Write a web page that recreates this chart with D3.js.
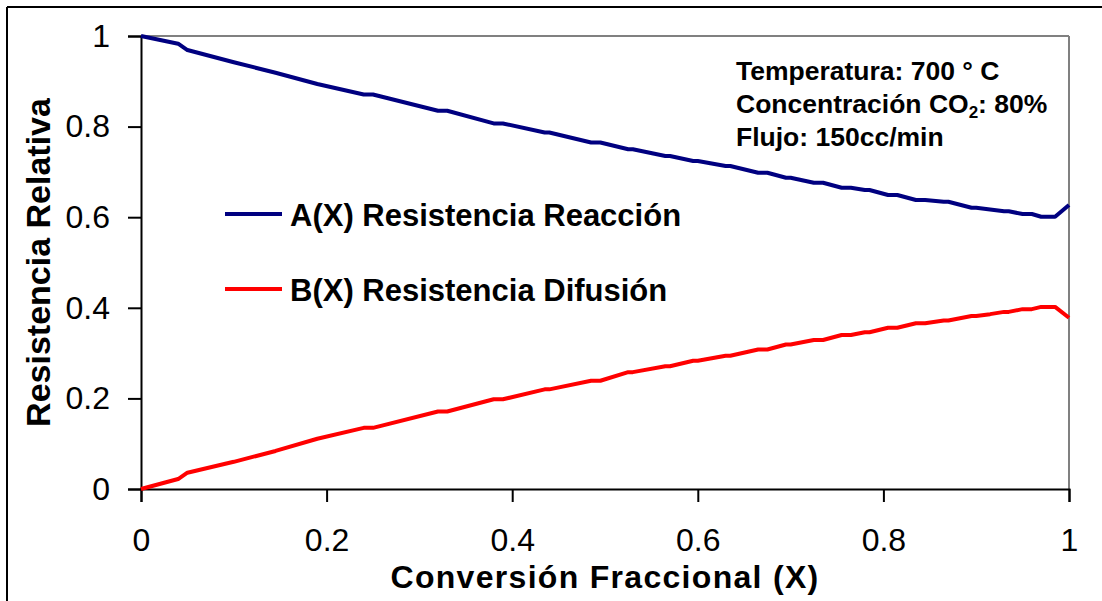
<!DOCTYPE html>
<html><head><meta charset="utf-8">
<script src="https://cdn.jsdelivr.net/npm/d3@7"></script>
<style>
html,body{margin:0;padding:0;background:#fff;}
svg{display:block;font-family:Arial,"Liberation Sans",sans-serif;}
</style></head>
<body>
<svg id="chart" width="1102" height="601"></svg>
<script>
// Fractional conversion (X)
const conversion = [0, 0.04, 0.05, 0.10, 0.145, 0.19, 0.24, 0.25, 0.32, 0.33, 0.38, 0.39, 0.435, 0.44,
  0.485, 0.495, 0.525, 0.53, 0.565, 0.57, 0.595, 0.60, 0.63, 0.635, 0.665, 0.675, 0.695, 0.70,
  0.725, 0.735, 0.755, 0.765, 0.78, 0.785, 0.805, 0.815, 0.835, 0.845, 0.865, 0.87, 0.895, 0.90,
  0.915, 0.93, 0.935, 0.95, 0.96, 0.97, 0.985, 1.00];
// A(X) Resistencia Reacción
const reaccion = [1.000, 0.983, 0.969, 0.942, 0.919, 0.894, 0.871, 0.871, 0.835, 0.835, 0.807, 0.807, 0.787, 0.787,
  0.765, 0.765, 0.750, 0.750, 0.735, 0.735, 0.724, 0.724, 0.713, 0.713, 0.698, 0.698, 0.687, 0.687,
  0.676, 0.676, 0.665, 0.665, 0.660, 0.660, 0.649, 0.649, 0.638, 0.638, 0.634, 0.634, 0.621, 0.621,
  0.617, 0.613, 0.613, 0.607, 0.607, 0.601, 0.601, 0.627];
// B(X) Resistencia Difusión
const difusion = [0.000, 0.022, 0.036, 0.060, 0.084, 0.111, 0.135, 0.135, 0.171, 0.171, 0.198, 0.198, 0.220, 0.220,
  0.239, 0.239, 0.258, 0.258, 0.271, 0.271, 0.283, 0.283, 0.294, 0.294, 0.308, 0.308, 0.319, 0.319,
  0.329, 0.329, 0.340, 0.340, 0.346, 0.346, 0.356, 0.356, 0.366, 0.366, 0.372, 0.372, 0.382, 0.382,
  0.386, 0.391, 0.391, 0.397, 0.397, 0.402, 0.402, 0.378];
const seriesNames = ["A(X) Resistencia Reacción", "B(X) Resistencia Difusión"];
const seriesColors = ["#000080", "#ff0000"];
const xTicks = [0, 0.2, 0.4, 0.6, 0.8, 1];
const yTicks = [0, 0.2, 0.4, 0.6, 0.8, 1];
const xTitle = "Conversión Fraccional (X)";
const yTitle = "Resistencia Relativa";
const notes = ["Temperatura: 700 ° C", "Concentración CO", "Flujo: 150cc/min"];

const svg = d3.select("#chart");
const L = 141, R = 1069, T = 36, Bm = 489;
const x = d3.scaleLinear().domain([0, 1]).range([L, R]);
const y = d3.scaleLinear().domain([0, 1]).range([Bm, T]);

// outer border (top & left visible)
svg.append("line").attr("x1", 7).attr("x2", 1102).attr("y1", 7).attr("y2", 7).attr("stroke", "#000").attr("stroke-width", 2);
svg.append("line").attr("x1", 7).attr("x2", 7).attr("y1", 7).attr("y2", 601).attr("stroke", "#000").attr("stroke-width", 2);

// plot frame top/right gray
svg.append("line").attr("x1", L).attr("x2", R).attr("y1", T).attr("y2", T).attr("stroke", "#808080").attr("stroke-width", 2);
svg.append("line").attr("x1", R).attr("x2", R).attr("y1", T).attr("y2", Bm).attr("stroke", "#808080").attr("stroke-width", 2);

// axes
const yAxis = svg.append("g").attr("transform", `translate(${L},0)`)
  .call(d3.axisLeft(y).tickValues(yTicks).tickSize(13).tickPadding(18).tickFormat(d => String(d)));
const xAxis = svg.append("g").attr("transform", `translate(0,${Bm})`)
  .call(d3.axisBottom(x).tickValues(xTicks).tickSize(13).tickPadding(26).tickFormat(d => String(d)));
[yAxis, xAxis].forEach(g => {
  g.select(".domain").attr("stroke", "#000").attr("stroke-width", 2);
  g.selectAll(".tick line").attr("stroke", "#000").attr("stroke-width", 2);
  g.selectAll(".tick text").attr("fill", "#000").style("font-size", "32px").style("font-family", "Arial, 'Liberation Sans', sans-serif");
});

// series
const data = [reaccion, difusion];
const line = d3.line().x((d, i) => x(conversion[i])).y(d => y(d));
data.forEach((vals, k) => {
  svg.append("path").datum(vals).attr("d", line).attr("fill", "none")
    .attr("stroke", seriesColors[k]).attr("stroke-width", 4).attr("stroke-linejoin", "round");
});

// legend
const legY = [214, 289];
seriesNames.forEach((name, k) => {
  svg.append("line").attr("x1", 225).attr("x2", 282).attr("y1", legY[k]).attr("y2", legY[k])
    .attr("stroke", seriesColors[k]).attr("stroke-width", 4);
  svg.append("text").attr("x", 290).attr("y", legY[k] + 12).text(name)
    .style("font-size", "31px").style("font-weight", "bold").attr("fill", "#000");
});

// annotation
const nx = 736, nb = [80, 113, 146];
svg.append("text").attr("x", nx).attr("y", nb[0]).text(notes[0]).style("font-size", "26.5px").style("font-weight", "bold");
const t2 = svg.append("text").attr("x", nx).attr("y", nb[1]).style("font-size", "26.5px").style("font-weight", "bold");
t2.append("tspan").text(notes[1]);
t2.append("tspan").text("2").style("font-size", "17px").attr("dy", 5);
t2.append("tspan").text(": 80%").attr("dy", -5);
svg.append("text").attr("x", nx).attr("y", nb[2]).text(notes[2]).style("font-size", "26.5px").style("font-weight", "bold");

// axis titles
svg.append("text").attr("x", (L + R) / 2).attr("y", 588).attr("text-anchor", "middle")
  .text(xTitle).style("font-size", "32px").style("font-weight", "bold").style("letter-spacing", "1.3px");
svg.append("text").attr("transform", `translate(50,${(T + Bm) / 2}) rotate(-90)`).attr("text-anchor", "middle")
  .text(yTitle).style("font-size", "34px").style("font-weight", "bold");
</script>
</body></html>
